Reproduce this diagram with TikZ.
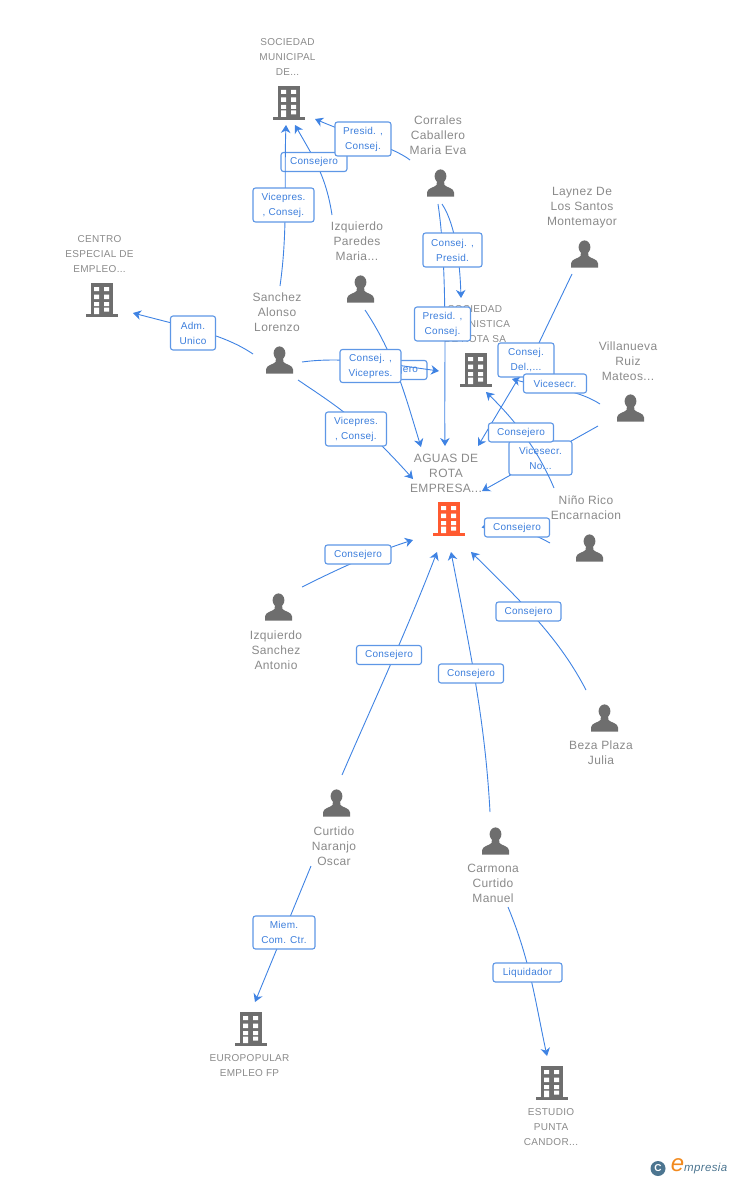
\documentclass[tikz,border=0pt]{standalone}
\usepackage{fontspec}
\setmainfont[LetterSpace=3]{Liberation Sans}
\usetikzlibrary{arrows.meta}
\definecolor{linkblue}{HTML}{3F83E3}
\definecolor{boxblue}{HTML}{5E97E6}
\definecolor{labblue}{HTML}{3C7EDC}
\definecolor{icongray}{HTML}{6E6E6E}
\definecolor{txtgray}{HTML}{8A8A8A}
\definecolor{hub}{HTML}{FF5A30}
\definecolor{logoblue}{HTML}{4C7590}
\definecolor{logoorange}{HTML}{F28A1E}
\tikzset{
  conn/.style={draw=linkblue,line width=0.9pt,-{Stealth[length=8pt,width=9.5pt,inset=2.5pt]}},
  lbl/.style={draw=boxblue,line width=1.1pt,fill=white,rounded corners=2.5pt,text=labblue,
    font=\fontsize{10}{15}\selectfont,align=center,inner sep=0pt},
  per/.style={text=txtgray,font=\fontsize{12}{15}\selectfont,align=center,inner sep=0pt},
  org/.style={text=txtgray,font=\fontsize{10}{15}\selectfont,align=center,inner sep=0pt},
  bldg/.pic={
    \fill[pic actions] (-11,-17) rectangle (11,14);
    \fill[pic actions] (-16,14) rectangle (16,17);
    \fill[white] (-8,-13) rectangle (-3,-9) (2,-13) rectangle (7,-9)
      (-8,-5.5) rectangle (-3,-1) (2,-5.5) rectangle (7,-1)
      (-8,2) rectangle (-3,6) (2,2) rectangle (7,6)
      (-8,7.5) rectangle (-3,14) (2,7.5) rectangle (7,11.5);
  },
  pers/.pic={
    \fill[pic actions] (0,-6.8) ellipse (5.9 and 6.8);
    \fill[pic actions] (-13.5,13.5) -- (-13.5,9.5) .. controls (-13.5,5) and (-6,4.5) .. (-4,2)
      -- (-3.5,-2) -- (3.5,-2) -- (4,2) .. controls (6,4.5) and (13.5,5) .. (13.5,9.5) -- (13.5,13.5) -- cycle;
  }
}
\begin{document}
\begin{tikzpicture}[x=1pt,y=-1pt]
\useasboundingbox (0,0) rectangle (728,1180);
% organisation and person captions
\node[org] (tmun) at (287.5,57) {SOCIEDAD\\MUNICIPAL\\DE...};
\node[org] (tcen) at (99.5,254) {CENTRO\\ESPECIAL DE\\EMPLEO...};
\node[org] (turb) at (475,324) {SOCIEDAD\\URBANISTICA\\DE ROTA SA};
\node[per] (tagu) at (446,473) {AGUAS DE\\ROTA\\EMPRESA...};
\node[org] (teur) at (249.5,1065.5) {EUROPOPULAR\\EMPLEO FP};
\node[org] (test) at (551,1127) {ESTUDIO\\PUNTA\\CANDOR...};
\node[per] (tcor) at (438,135) {Corrales\\Caballero\\Maria Eva};
\node[per] (tlay) at (582,208) {Laynez De\\Los Santos\\Montemayor};
\node[per] (tpar) at (357,241) {Izquierdo\\Paredes\\Maria...};
\node[per] (tsan) at (277,312) {Sanchez\\Alonso\\Lorenzo};
\node[per] (tvil) at (628,361) {Villanueva\\Ruiz\\Mateos...};
\node[per] (tnin) at (586,507.5) {Niño Rico\\Encarnacion};
\node[per] (tizs) at (276,650) {Izquierdo\\Sanchez\\Antonio};
\node[per] (tbez) at (601,753) {Beza Plaza\\Julia};
\node[per] (tcur) at (334,846) {Curtido\\Naranjo\\Oscar};
\node[per] (tcar) at (493,883) {Carmona\\Curtido\\Manuel};
% icons
\pic[fill=icongray] (imun) at (289,103) {bldg};
\pic[fill=icongray] (icen) at (102,300) {bldg};
\pic[fill=icongray] (iurb) at (476,370) {bldg};
\pic[fill=hub] (iagu) at (449,519) {bldg};
\pic[fill=icongray] (ieur) at (251,1029) {bldg};
\pic[fill=icongray] (iest) at (552,1083) {bldg};
\pic[fill=icongray] (icor) at (440.5,183) {pers};
\pic[fill=icongray] (ilay) at (584.5,254) {pers};
\pic[fill=icongray] (ipar) at (360.5,289) {pers};
\pic[fill=icongray] (isan) at (279.5,360) {pers};
\pic[fill=icongray] (ivil) at (630.5,408) {pers};
\pic[fill=icongray] (inin) at (589.5,548) {pers};
\pic[fill=icongray] (iizs) at (278.5,607) {pers};
\pic[fill=icongray] (ibez) at (604.5,718) {pers};
\pic[fill=icongray] (icur) at (336.5,803) {pers};
\pic[fill=icongray] (icar) at (495.5,841) {pers};
% connector ends
\coordinate (corS) at (410,160); \coordinate (munA) at (315,119);
\coordinate (parS) at (332,215); \coordinate (munB) at (295,125);
\coordinate (sanN) at (280,286); \coordinate (munC) at (286,125);
\coordinate (sanW) at (253,354); \coordinate (cenE) at (133,313);
\coordinate (corA) at (442,204); \coordinate (urbN) at (461,298);
\coordinate (corB) at (438,204); \coordinate (aguA) at (445,446);
\coordinate (sanE) at (302,362); \coordinate (urbW) at (439,371);
\coordinate (parE) at (365,310); \coordinate (aguB) at (421,447);
\coordinate (sanF) at (298,380); \coordinate (aguC) at (413,479);
\coordinate (layS) at (572,274); \coordinate (aguD) at (478,446);
\coordinate (vilA) at (600,404); \coordinate (urbE) at (512,379);
\coordinate (ninA) at (554,488); \coordinate (urbS) at (486,392);
\coordinate (vilB) at (598,426); \coordinate (aguE) at (482,491);
\coordinate (ninB) at (550,543); \coordinate (aguF) at (481.5,527.5);
\coordinate (izsE) at (302,587); \coordinate (aguG) at (413,540);
\coordinate (curN) at (342,775); \coordinate (aguH) at (437,552);
\coordinate (carN) at (490,812); \coordinate (aguI) at (451,552);
\coordinate (bezN) at (586,690); \coordinate (aguJ) at (471,552);
\coordinate (curS) at (311,866); \coordinate (eurN) at (255,1002);
\coordinate (carS) at (508,907); \coordinate (estN) at (547,1056);
% connectors under their labels
\draw[conn] (corS) .. controls (395,148) and (350,134) .. (munA);
\draw[conn] (parS) .. controls (326,175) and (312,155) .. (munB);
\draw[conn] (sanW) .. controls (225,335) and (190,328) .. (cenE);
\draw[conn] (corA) .. controls (456,225) and (460,265) .. (urbN);
\draw[conn] (corB) .. controls (448,270) and (444,370) .. (aguA);
\draw[conn] (parE) .. controls (395,355) and (405,395) .. (aguB);
\draw[conn] (sanF) .. controls (335,405) and (360,420) .. (aguC);
\draw[conn] (layS) -- (537,347) -- (aguD);
\draw[conn] (vilA) .. controls (575,388) and (545,388) .. (urbE);
\draw[conn] (vilB) -- (aguE);
\draw[conn] (ninB) .. controls (530,532) and (505,522) .. (aguF);
\draw[conn] (izsE) .. controls (340,568) and (375,552) .. (aguG);
\draw[conn] (curN) .. controls (370,710) and (405,635) .. (aguH);
\draw[conn] (carN) .. controls (485,720) and (470,650) .. (aguI);
\draw[conn] (bezN) .. controls (560,640) and (525,605) .. (aguJ);
\draw[conn] (curS) -- (eurN);
\draw[conn] (carS) .. controls (530,960) and (535,1000) .. (estN);
% link labels, with the connectors that lie over some of them
\node[lbl,minimum width=66,minimum height=19] (lzz) at (314,162) {Consejero};
\draw[conn] (sanN) .. controls (288,230) and (284,180) .. (munC);
\node[lbl,minimum width=56,minimum height=34] (la) at (363,139) {Presid. ,\\Consej.};
\node[lbl,minimum width=61,minimum height=34] (lb) at (283.5,205) {Vicepres.\\, Consej.};
\node[lbl,minimum width=45,minimum height=34] (lc) at (193,333) {Adm.\\Unico};
\node[lbl,minimum width=59,minimum height=34] (ld) at (452.5,250) {Consej. ,\\Presid.};
\node[lbl,minimum width=56,minimum height=34] (le) at (442.5,324) {Presid. ,\\Consej.};
\node[lbl,minimum width=66,minimum height=19] (lf) at (394,370) {Consejero};
\draw[conn] (sanE) .. controls (345,356) and (395,365) .. (urbW);
\node[lbl,minimum width=61,minimum height=33] (lg) at (370.5,366) {Consej. ,\\Vicepres.};
\node[lbl,minimum width=61,minimum height=34] (lh) at (356,429) {Vicepres.\\, Consej.};
\node[lbl,minimum width=56,minimum height=34] (li) at (526,360) {Consej.\\Del.,...};
\node[lbl,minimum width=63,minimum height=19] (lj) at (555,383.5) {Vicesecr.};
\node[lbl,minimum width=63,minimum height=34] (ll) at (540.5,458) {Vicesecr.\\No...};
\draw[conn] (ninA) .. controls (540,455) and (520,425) .. (urbS);
\node[lbl,minimum width=65,minimum height=19] (lk) at (521,432.5) {Consejero};
\node[lbl,minimum width=65,minimum height=19] (lm) at (517,527.5) {Consejero};
\node[lbl,minimum width=66,minimum height=19] (ln) at (358,554.5) {Consejero};
\node[lbl,minimum width=65,minimum height=19] (lo) at (389,655) {Consejero};
\node[lbl,minimum width=65,minimum height=19] (lp) at (471,673.5) {Consejero};
\node[lbl,minimum width=65,minimum height=19] (lq) at (528.5,611.5) {Consejero};
\node[lbl,minimum width=62,minimum height=33] (lr) at (284,932.5) {Miem.\\Com. Ctr.};
\node[lbl,minimum width=69,minimum height=19] (ls) at (527.5,972.5) {Liquidador};
% logo
\node[circle,fill=logoblue,minimum size=15,inner sep=0pt,text=white,font=\fontsize{10}{10}\selectfont\bfseries] (logoc) at (658,1168.5) {C};
\node[text=logoorange,inner sep=0pt,font=\fontsize{24}{24}\selectfont\itshape] (logoe) at (677.5,1165) {e};
\node[text=logoblue,inner sep=0pt,anchor=west,font=\fontsize{11.5}{12}\selectfont\itshape] (logot) at (684,1169) {mpresia};
\end{tikzpicture}
\end{document}
